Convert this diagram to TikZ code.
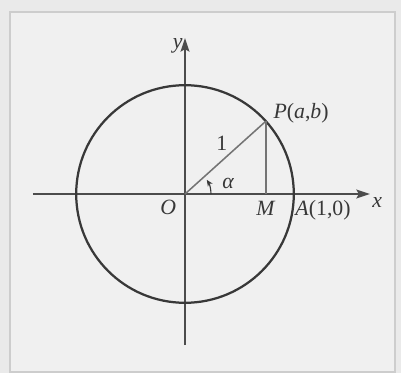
\documentclass[tikz,border=0pt]{standalone}
\usepackage{fontspec}
\setmainfont{Liberation Serif}
\usepackage{xcolor}
\usepackage{tikz}
\usetikzlibrary{arrows.meta, positioning, calc}

\definecolor{paper}{HTML}{EAEAEA}
\definecolor{ink}{HTML}{383838}

\begin{document}
\begin{tikzpicture}[
    axis/.style={draw=ink!90, line width=1.2pt, -{Stealth[length=3.4mm,width=2.2mm,inset=0.6mm]}},
    circ/.style={draw=ink, line width=1.6pt},
    seg/.style={draw=ink!70, line width=1.1pt},
    lbl/.style={text=ink, font=\fontsize{15.5}{17}\selectfont, inner sep=1pt}
]
    % Page and frame
    \useasboundingbox (-4.625,-4.475) rectangle (5.4,4.85);
    \fill [paper] (-4.625,-4.475) rectangle (5.4,4.85);
    \draw [ink!25, line width=0.8pt, fill=paper!70!white] (-4.375,-4.45) rectangle (5.25,4.55);

    % Points
    \coordinate (O) at (0,0);
    \coordinate (P) at (42:2.72);
    \coordinate (M) at (P |- O);
    \coordinate (A) at (2.72,0);
    \coordinate (xl) at (-3.8,0);
    \coordinate (xr) at (4.625,0);
    \coordinate (yb) at (0,-3.775);
    \coordinate (yt) at (0,3.9);

    % Axes
    \draw [axis] (xl) -- (xr);
    \draw [axis] (yb) -- (yt);

    % Unit circle
    \draw [circ] (O) circle (2.72);

    % Radius and projection
    \draw [seg] (O) -- node [lbl, above left=0.02cm and 0.0cm, pos=0.55] {1} (P);
    \draw [seg] (P) -- (M);

    % Angle
    \draw [ink, line width=0.8pt, -{Stealth[length=1.6mm,width=1.4mm]}] (0.65,0) arc (0:33:0.65);
    \node (alpha) [lbl] at (1.08,0.27) {\textit{α}};

    % Labels
    \node (ylbl) [lbl, left=0.02cm of yt, yshift=-0.2cm] {\textit{y}};
    \node (xlbl) [lbl, below right=0.05cm and 0.02cm of xr] {\textit{x}};
    \node (Olbl) [lbl, below left=0.12cm and 0.18cm of O] {\textit{O}};
    \node (Mlbl) [lbl, below=0.15cm of M] {\textit{M}};
    \node (Albl) [lbl, below right=0.12cm and 0.0cm of A] {\textit{A}(1,0)};
    \node (Plbl) [lbl, above right=-0.1cm and 0.15cm of P] {\textit{P}(\textit{a},\textit{b})};
\end{tikzpicture}
\end{document}
